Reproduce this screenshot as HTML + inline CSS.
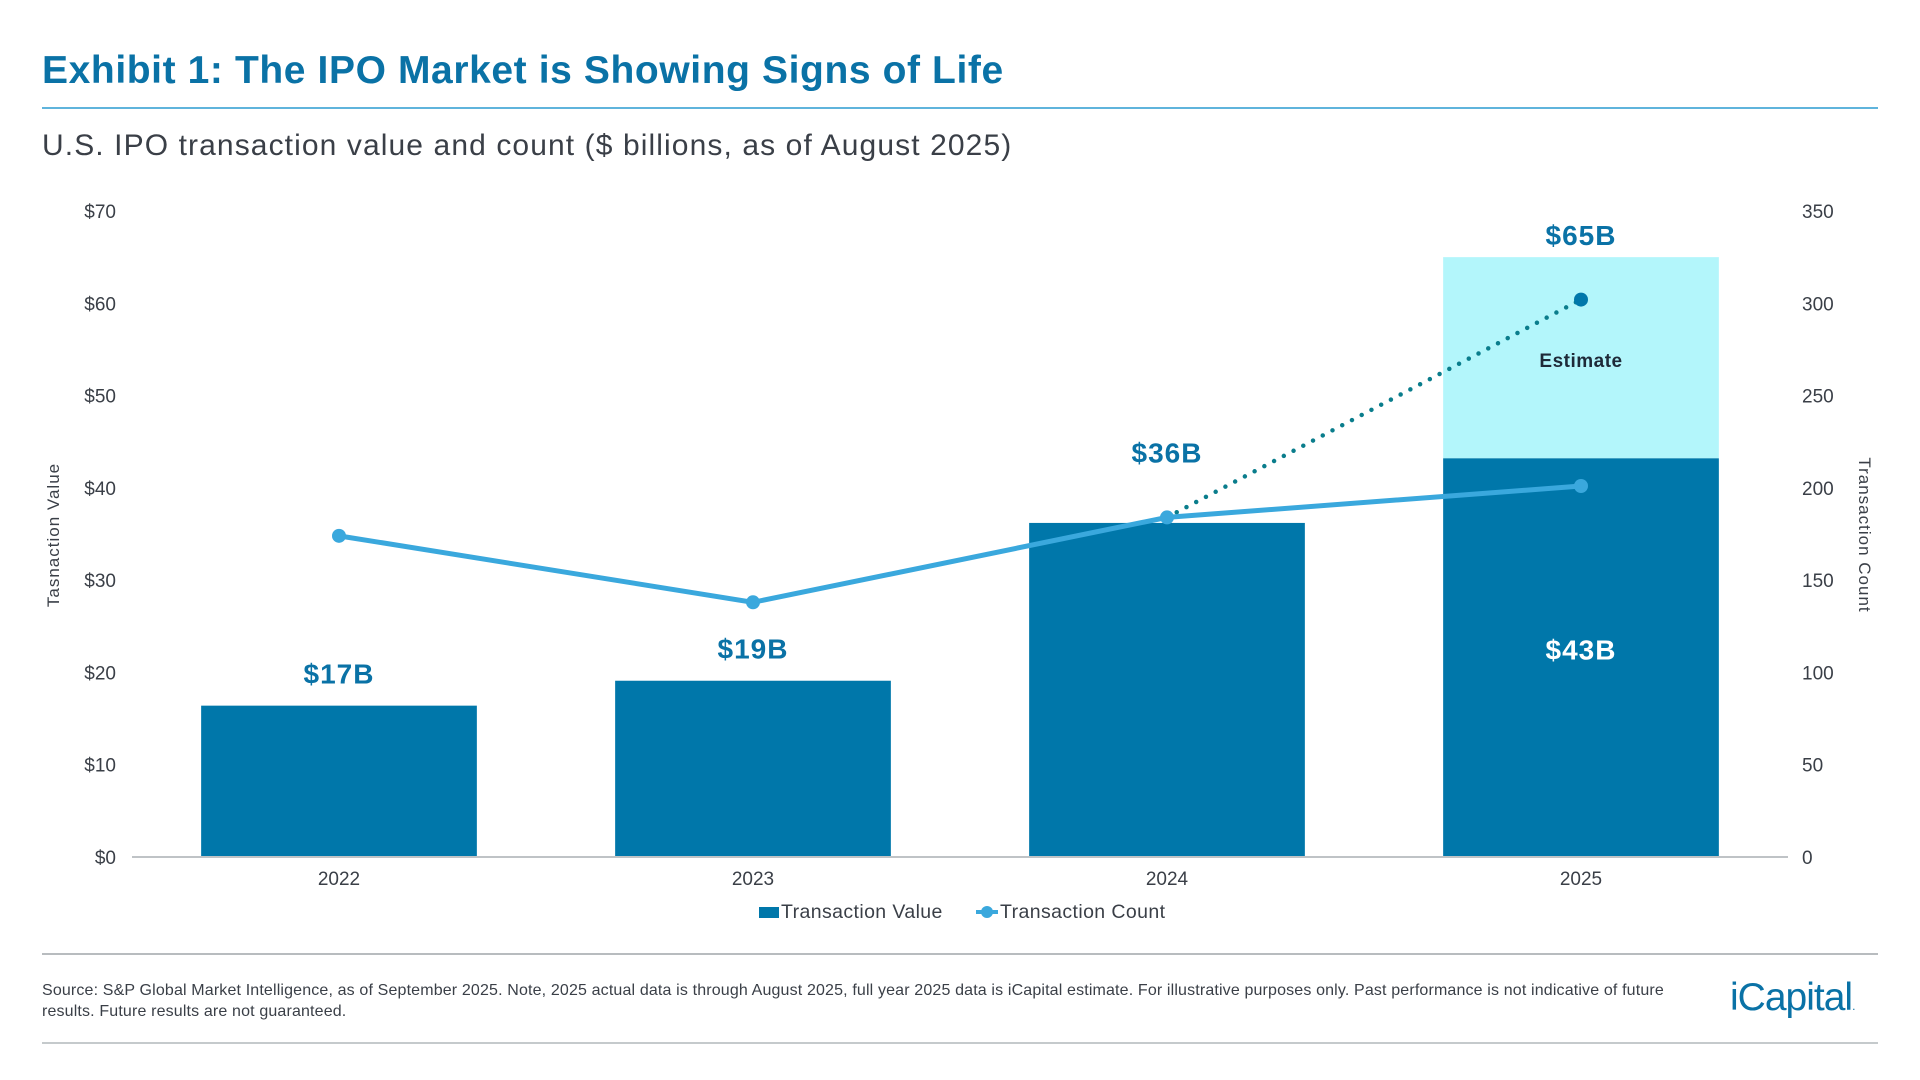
<!DOCTYPE html>
<html><head><meta charset="utf-8">
<style>
html,body{margin:0;padding:0;background:#fff;}
body{width:1920px;height:1080px;position:relative;overflow:hidden;font-family:"Liberation Sans",sans-serif;}
.abs{position:absolute;}
</style></head>
<body>
<div class="abs" style="left:42px;top:49px;font-size:39px;font-weight:bold;color:#0a72a6;letter-spacing:0.6px;">Exhibit 1: The IPO Market is Showing Signs of Life</div>
<div class="abs" style="left:42px;top:107px;width:1836px;height:2px;background:#5fb4dc;"></div>
<div class="abs" style="left:42px;top:129px;font-size:30px;color:#3a3f47;letter-spacing:1.1px;">U.S. IPO transaction value and count ($ billions, as of August 2025)</div>

<svg class="abs" style="left:0;top:0" width="1920" height="1080">
<g id="g"></g>
</svg>

<div class="abs" style="left:759px;top:901px;font-size:19.5px;color:#3a3f47;height:24px;letter-spacing:0.4px;">
 <span style="position:absolute;left:0;top:0;white-space:nowrap;"><span style="display:inline-block;width:20px;height:11px;background:#0077aa;margin-right:2px;"></span>Transaction Value</span>
 <span style="position:absolute;left:217px;top:0;white-space:nowrap;"><svg width="22" height="14" style="vertical-align:-1px;margin-right:2px"><line x1="0" y1="7" x2="22" y2="7" stroke="#3aa8dd" stroke-width="4"/><circle cx="11" cy="7" r="6" fill="#3aa8dd"/></svg>Transaction Count</span>
</div>

<div class="abs" style="left:42px;top:953px;width:1836px;height:2px;background:#b8bcbf;"></div>
<div class="abs" style="left:42px;top:980px;width:1640px;font-size:16px;line-height:21px;color:#3a3f47;letter-spacing:0.15px;">Source: S&amp;P Global Market Intelligence, as of September 2025. Note, 2025 actual data is through August 2025, full year 2025 data is iCapital estimate. For illustrative purposes only. Past performance is not indicative of future results. Future results are not guaranteed.</div>
<div class="abs" style="left:1730px;top:976px;font-size:39px;color:#0a72a6;letter-spacing:-1px;">iCapital<span style="font-size:12px;">.</span></div>
<div class="abs" style="left:42px;top:1042px;width:1836px;height:2px;background:#c5cacc;"></div>

<script>
const categories=["2022","2023","2024","2025"];
const valueActual=[16.4,19.1,36.2,43.2];
const valueEstimate=[null,null,null,65];
const countActual=[174,138,184,201];
const countEstimate=[null,null,184,302];
const valueLabels=["$17B","$19B","$36B","$43B"];
const estLabel="$65B";
const leftTicks=[0,10,20,30,40,50,60,70];
const rightTicks=[0,50,100,150,200,250,300,350];

const NS="http://www.w3.org/2000/svg";
const g=document.getElementById('g');
const X0=132,X1=1788,Y0=857,Y1=211;
const bw=(X1-X0)/categories.length;
const xc=i=>X0+bw*(i+0.5);
const yL=v=>Y0-(v/70)*(Y0-Y1);
const yR=v=>Y0-(v/350)*(Y0-Y1);
function mk(t,a,txt){const e=document.createElementNS(NS,t);for(const k in a)e.setAttribute(k,a[k]);if(txt!=null)e.textContent=txt;g.appendChild(e);return e;}

leftTicks.forEach(v=>{const e=mk('text',{x:116,y:yL(v)+7,'text-anchor':'end','font-size':19,fill:'#3a3f47','font-family':'Liberation Sans'},'$'+v);

});
rightTicks.forEach(v=>{const e=mk('text',{x:1802,y:yR(v)+7,'font-size':19,fill:'#3a3f47','font-family':'Liberation Sans'},String(v));

});

const lt=mk('text',{x:0,y:0,transform:'translate(59,535) rotate(-90)','text-anchor':'middle','font-size':17,fill:'#3a3f47','font-family':'Liberation Sans','letter-spacing':'1'},'Tasnaction Value');


const rt=mk('text',{x:0,y:0,transform:'translate(1859,535) rotate(90)','text-anchor':'middle','font-size':17,fill:'#3a3f47','font-family':'Liberation Sans','letter-spacing':'1'},'Transaction Count');



const bwid=bw*0.666;
categories.forEach((c,i)=>{
  if(valueEstimate[i]!=null){
    const r=mk('rect',{x:xc(i)-bwid/2,y:yL(valueEstimate[i]),width:bwid,height:yL(valueActual[i])-yL(valueEstimate[i]),fill:'#b3f6fb'});
    
    
    const t=mk('text',{x:xc(i),y:yL(valueEstimate[i])-12,'text-anchor':'middle','font-size':28,'font-weight':'bold',fill:'#0a72a6','font-family':'Liberation Sans','letter-spacing':'1'},estLabel);
    
    
    const e=mk('text',{x:xc(i),y:yL(valueEstimate[i])+110,'text-anchor':'middle','font-size':19,'font-weight':'bold',fill:'#1e2a38','font-family':'Liberation Sans','letter-spacing':'0.5'},'Estimate');
    
    
  }
  const b=mk('rect',{x:xc(i)-bwid/2,y:yL(valueActual[i]),width:bwid,height:Y0-yL(valueActual[i]),fill:'#0077aa'});
  
  
  const inside=valueEstimate[i]!=null;
  let ly=yL(valueActual[i])-22;
  const pY=yR(countActual[i]);
  if(pY>yL(valueActual[i])-45&&pY<yL(valueActual[i])+20) ly=pY-55;
  if(inside) ly=yL(valueActual[i])+201;
  const l=mk('text',{x:xc(i),y:ly,'text-anchor':'middle','font-size':28,'font-weight':'bold',fill:inside?'#ffffff':'#0a72a6','font-family':'Liberation Sans','letter-spacing':'1'},valueLabels[i]);
  
  
  const xl=mk('text',{x:xc(i),y:885,'text-anchor':'middle','font-size':19,fill:'#3a3f47','font-family':'Liberation Sans'},c);
  
  
});
const ax=mk('line',{x1:X0,y1:Y0,x2:X1,y2:Y0,stroke:'#bfc3c6','stroke-width':2});



let ep=[];countEstimate.forEach((v,i)=>{if(v!=null)ep.push(xc(i)+','+yR(v));});
const dl=mk('polyline',{points:ep.join(' '),fill:'none',stroke:'#0a7d8c','stroke-width':4.5,'stroke-dasharray':'0 11','stroke-linecap':'round'});


countEstimate.forEach((v,i)=>{if(v!=null&&countActual[i]!==v){const c=mk('circle',{cx:xc(i),cy:yR(v),r:7,fill:'#0077aa'});

}});

const lp=countActual.map((v,i)=>xc(i)+','+yR(v)).join(' ');
const ln=mk('polyline',{points:lp,fill:'none',stroke:'#3aa8dd','stroke-width':5});


countActual.forEach((v,i)=>{const c=mk('circle',{cx:xc(i),cy:yR(v),r:7,fill:'#3aa8dd'});

});
</script>
</body></html>
